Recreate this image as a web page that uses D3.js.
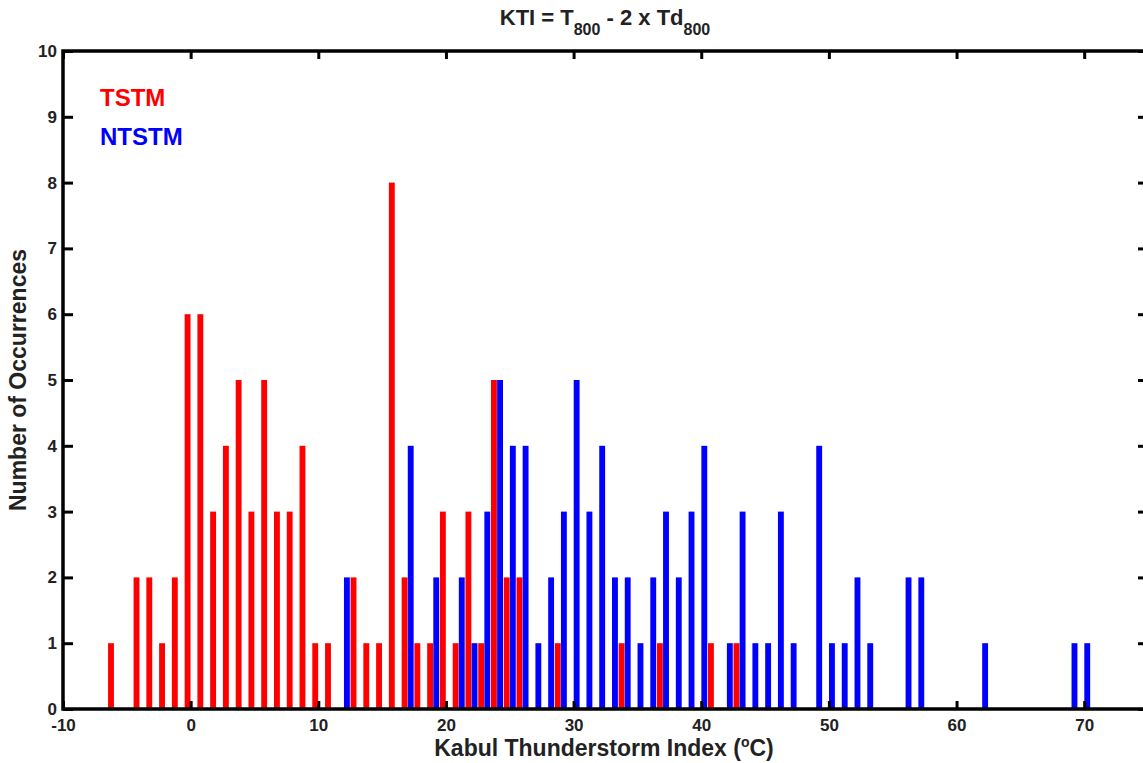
<!DOCTYPE html>
<html>
<head>
<meta charset="utf-8">
<script src="https://cdn.jsdelivr.net/npm/d3@7"></script>
<style>
  html, body { margin: 0; padding: 0; background: #fff; }
  svg { display: block; font-family: "Liberation Sans", Arial, sans-serif; font-weight: bold; }
</style>
</head>
<body>
<svg id="chart" width="1143" height="763"></svg>
<script>
// Kabul Thunderstorm Index histogram: counts per 1 °C bin
const tstmBins   = [-6, -4, -3, -2, -1, 0, 1, 2, 3, 4, 5, 6, 7, 8, 9, 10, 11, 13, 14, 15, 16, 17, 18, 19, 20, 21, 22, 23, 24, 25, 26, 29, 34, 37, 41, 43];
const tstmCounts = [ 1,  2,  2,  1,  2, 6, 6, 3, 4, 5, 3, 5, 3, 3, 4,  1,  1,  2,  1,  1,  8,  2,  1,  1,  3,  1,  3,  1,  5,  2,  2,  1,  1,  1,  1,  1];

const ntstmBins   = [12, 17, 19, 21, 22, 23, 24, 25, 26, 27, 28, 29, 30, 31, 32, 33, 34, 35, 36, 37, 38, 39, 40, 42, 43, 44, 45, 46, 47, 49, 50, 51, 52, 53, 56, 57, 62, 69, 70];
const ntstmCounts = [ 2,  4,  2,  2,  1,  3,  5,  4,  4,  1,  2,  3,  5,  3,  4,  2,  2,  1,  2,  3,  2,  3,  4,  1,  3,  1,  1,  3,  1,  4,  1,  1,  2,  1,  2,  2,  1,  1,  1];

const xTicks = [-10, 0, 10, 20, 30, 40, 50, 60, 70];
const yTicks = [0, 1, 2, 3, 4, 5, 6, 7, 8, 9, 10];

const series = [
  { name: "TSTM",  color: "#ff0000", offset: -0.24, bins: tstmBins,  counts: tstmCounts },
  { name: "NTSTM", color: "#0000ff", offset:  0.24, bins: ntstmBins, counts: ntstmCounts }
];

const svg = d3.select("#chart");
const plotL = 63, plotR = 1148, plotT = 51, plotB = 709;

const x = d3.scaleLinear().domain([-10, 75]).range([plotL, plotR]);
const y = d3.scaleLinear().domain([0, 10]).range([plotB, plotT]);
const barW = x(0.46) - x(0);

// bars
series.forEach(s => {
  svg.append("g")
    .selectAll("rect")
    .data(s.bins.map((b, i) => ({ b, c: s.counts[i] })))
    .join("rect")
    .attr("x", d => x(d.b + s.offset) - barW / 2)
    .attr("y", d => y(d.c))
    .attr("width", barW)
    .attr("height", d => y(0) - y(d.c))
    .attr("fill", s.color);
});

// axes with inward ticks on all four sides
const plain = d => String(d);
const axisBottom = d3.axisBottom(x).tickValues(xTicks).tickSize(-8).tickPadding(10).tickFormat(plain);
const axisTop = d3.axisTop(x).tickValues(xTicks).tickSize(-8).tickFormat("");
const axisLeft = d3.axisLeft(y).tickValues(yTicks).tickSize(-10).tickPadding(6).tickFormat(plain);
const axisRight = d3.axisRight(y).tickValues(yTicks).tickSize(-10).tickFormat("");

function styleAxis(g) {
  g.select(".domain").remove();
  g.selectAll(".tick line").attr("stroke", "#000").attr("stroke-width", 3);
  g.selectAll(".tick text").attr("fill", "#222").style("font-size", "17px").style("font-weight", "bold")
    .style("font-family", "'Liberation Sans', Arial, sans-serif");
}

svg.append("g").attr("transform", `translate(0,${plotB})`).call(axisBottom).call(styleAxis);
svg.append("g").attr("transform", `translate(0,${plotT})`).call(axisTop).call(styleAxis);
svg.append("g").attr("transform", `translate(${plotL},0)`).call(axisLeft).call(styleAxis);
svg.append("g").attr("transform", `translate(${plotR},0)`).call(axisRight).call(styleAxis);

// frame
svg.append("rect")
  .attr("x", plotL).attr("y", plotT)
  .attr("width", plotR - plotL).attr("height", plotB - plotT)
  .attr("fill", "none").attr("stroke", "#000").attr("stroke-width", 3.5);

// title with subscripts
const title = svg.append("text")
  .attr("x", 605).attr("y", 25)
  .attr("text-anchor", "middle")
  .attr("fill", "#222")
  .style("font-size", "22px");
title.append("tspan").text("KTI = T");
title.append("tspan").attr("dy", 10).style("font-size", "16px").text("800");
title.append("tspan").attr("dy", -10).text(" - 2 x Td");
title.append("tspan").attr("dy", 10).style("font-size", "16px").text("800");

// axis titles
const xLabel = svg.append("text")
  .attr("x", 604).attr("y", 756)
  .attr("text-anchor", "middle")
  .attr("fill", "#222")
  .style("font-size", "23px");
xLabel.append("tspan").text("Kabul Thunderstorm Index (");
xLabel.append("tspan").attr("dy", -9).style("font-size", "14px").text("o");
xLabel.append("tspan").attr("dy", 9).text("C)");

svg.append("text")
  .attr("transform", `translate(26,${(plotT + plotB) / 2}) rotate(-90)`)
  .attr("text-anchor", "middle")
  .attr("fill", "#222")
  .style("font-size", "23px")
  .text("Number of Occurrences");

// legend
series.forEach((s, i) => {
  svg.append("text")
    .attr("x", 100).attr("y", 106 + i * 39)
    .attr("fill", s.color)
    .style("font-size", "24px")
    .text(s.name);
});
</script>
</body>
</html>
